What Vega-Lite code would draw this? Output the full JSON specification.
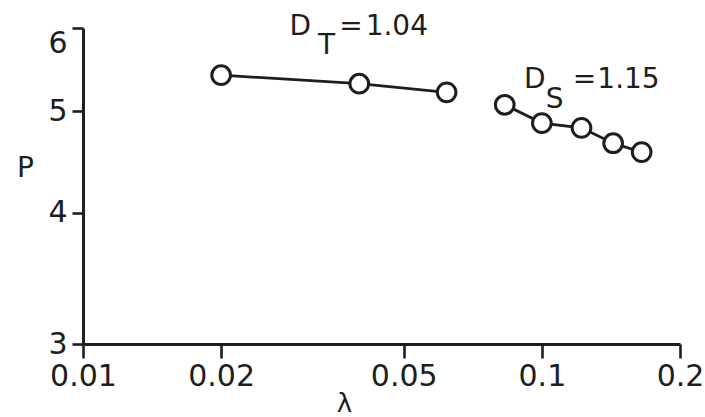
{
  "$schema": "https://vega.github.io/schema/vega-lite/v6.json",
  "width": 597,
  "height": 316,
  "autosize": "none",
  "padding": {"left": 83, "top": 28, "right": 25, "bottom": 73},
  "background": "white",
  "config": {
    "view": {"stroke": null},
    "font": "DejaVu Sans",
    "axis": {
      "domainColor": "#1e1e1e",
      "domainWidth": 3,
      "tickColor": "#1e1e1e",
      "tickWidth": 2.6,
      "grid": false,
      "labelFont": "DejaVu Sans",
      "labelFontSize": 30,
      "labelColor": "#1e1e1e",
      "titleFont": "DejaVu Sans",
      "titleFontSize": 28,
      "titleFontWeight": "normal",
      "titleColor": "#1e1e1e"
    }
  },
  "datasets": {
    "pts": [
      {"lambda": 0.02, "P": 5.41, "series": "T"},
      {"lambda": 0.040, "P": 5.31, "series": "T"},
      {"lambda": 0.062, "P": 5.21, "series": "T"},
      {"lambda": 0.083, "P": 5.07, "series": "S"},
      {"lambda": 0.100, "P": 4.87, "series": "S"},
      {"lambda": 0.122, "P": 4.82, "series": "S"},
      {"lambda": 0.143, "P": 4.66, "series": "S"},
      {"lambda": 0.165, "P": 4.57, "series": "S"}
    ],
    "labels": [
      {"lambda": 0.0282, "P": 5.91, "text": "D"},
      {"lambda": 0.0325, "P": 5.67, "text": "T"},
      {"lambda": 0.0362, "P": 5.91, "text": "="},
      {"lambda": 0.0413, "P": 5.91, "text": "1.04"},
      {"lambda": 0.0914, "P": 5.26, "text": "D"},
      {"lambda": 0.1020, "P": 5.03, "text": "S"},
      {"lambda": 0.1168, "P": 5.26, "text": "="},
      {"lambda": 0.1321, "P": 5.26, "text": "1.15"}
    ]
  },
  "layer": [
    {
      "data": {"name": "pts"},
      "mark": {"type": "line", "color": "#1e1e1e", "strokeWidth": 2.8},
      "encoding": {
        "x": {
          "field": "lambda", "type": "quantitative",
          "scale": {"type": "log", "domain": [0.01, 0.2], "nice": false},
          "axis": {
            "values": [0.01, 0.02, 0.05, 0.1, 0.2],
            "format": ".2~f",
            "tickSize": 14,
            "labelPadding": 3,
            "labelFlush": false,
            "labelOverlap": false,
            "title": "λ",
            "titleX": 261,
            "titleY": 72,
            "titleFontSize": 26,
            "titleAnchor": null,
            "titleAlign": "center",
            "titleBaseline": "bottom"
          }
        },
        "y": {
          "field": "P", "type": "quantitative",
          "scale": {"type": "log", "domain": [3, 6], "nice": false, "zero": false},
          "axis": {
            "values": [3, 4, 5, 6],
            "format": "d",
            "tickSize": 11,
            "labelPadding": 5,
            "labelFlush": false,
            "labelOverlap": false,
            "labelBaseline": {"condition": {"test": "datum.value == 6", "value": "top"}, "value": "middle"},
            "title": "P",
            "titleAngle": 0,
            "titleX": -58,
            "titleY": 140,
            "titleAlign": "center",
            "titleBaseline": "middle"
          }
        },
        "detail": {"field": "series"},
        "order": {"field": "lambda"}
      }
    },
    {
      "data": {"name": "pts"},
      "mark": {"type": "point", "shape": "circle", "size": 350, "fill": "white", "fillOpacity": 1, "opacity": 1, "stroke": "#1e1e1e", "strokeWidth": 3},
      "encoding": {
        "x": {"field": "lambda", "type": "quantitative"},
        "y": {"field": "P", "type": "quantitative"}
      }
    },
    {
      "data": {"name": "labels"},
      "mark": {"type": "text", "align": "left", "baseline": "alphabetic", "fontSize": 28, "font": "DejaVu Sans", "color": "#1e1e1e"},
      "encoding": {
        "x": {"field": "lambda", "type": "quantitative"},
        "y": {"field": "P", "type": "quantitative"},
        "text": {"field": "text"}
      }
    }
  ]
}
